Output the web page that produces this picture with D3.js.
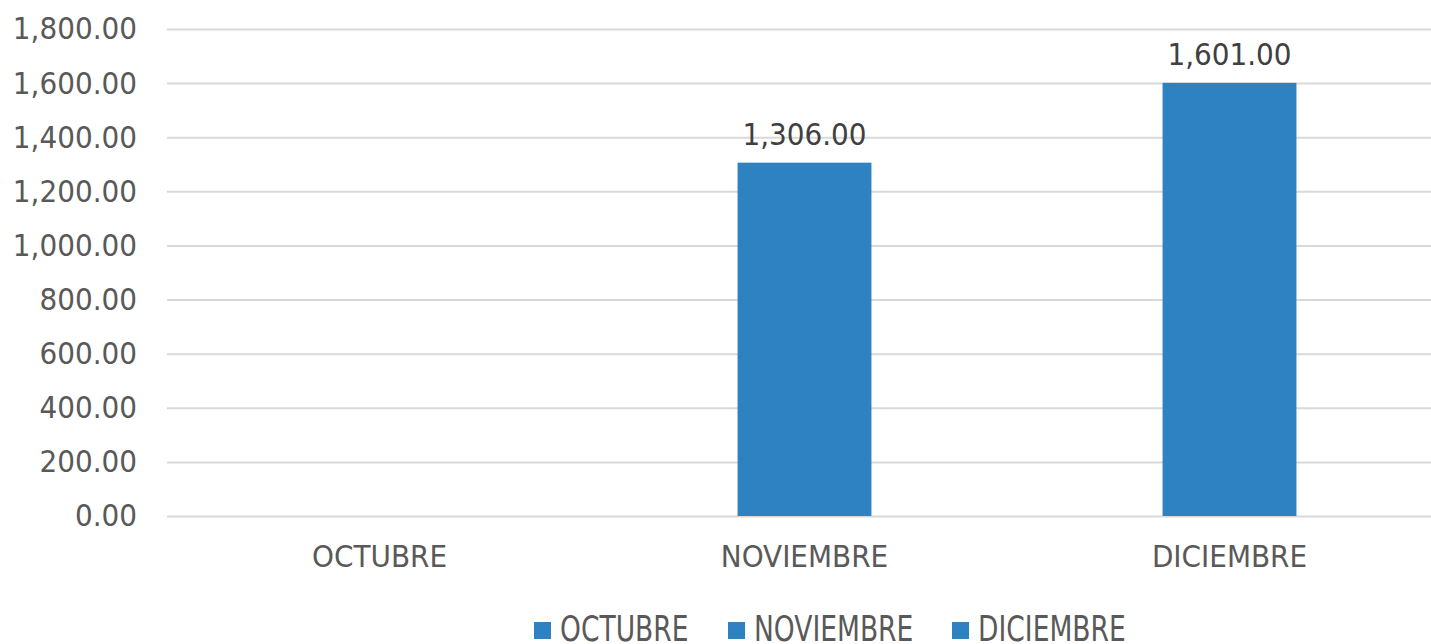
<!DOCTYPE html>
<html>
<head>
<meta charset="utf-8">
<script src="https://cdn.jsdelivr.net/npm/d3@7"></script>
<style>
  body { margin: 0; background: #fff; }
  text { font-family: "DejaVu Sans Condensed", "DejaVu Sans", sans-serif; }
</style>
</head>
<body>
<svg id="chart"></svg>
<script>
// Data
const categories = ["OCTUBRE", "NOVIEMBRE", "DICIEMBRE"];
const values = [null, 1306, 1601];
const yTicks = [0, 200, 400, 600, 800, 1000, 1200, 1400, 1600, 1800];
const legendItems = ["OCTUBRE", "NOVIEMBRE", "DICIEMBRE"];

// Configurations
const width = 1431;
const height = 644;
const marginLeft = 167;
const plotRight = 1442;   // plot area runs a bit past the picture edge
const yTop = 29;
const yBottom = 516;
const barColor = "#2e82c2";
const textColor = "#595959";
const barShare = 0.315;   // bar width as share of category band

const svg = d3.select("#chart")
    .attr("width", width)
    .attr("height", height)
    .attr("viewBox", [0, 0, width, height]);

const x = d3.scaleBand(categories, [marginLeft, plotRight]).padding(0);
const y = d3.scaleLinear([0, 1800], [yBottom, yTop]);
const fmt = d3.format(",.2f");

// gridlines + y labels
const yAxis = d3.axisLeft(y).tickValues(yTicks).tickFormat(fmt).tickSize(0).tickPadding(30);
svg.append("g")
    .attr("transform", `translate(${marginLeft},0)`)
    .call(yAxis)
    .call(g => g.select(".domain").remove())
    .call(g => g.selectAll(".tick line").clone()
        .attr("x2", plotRight - marginLeft)
        .attr("stroke", "#d9d9d9")
        .attr("stroke-width", 2))
    .call(g => g.selectAll(".tick text")
        .attr("fill", textColor)
        .attr("font-size", 31)
        .attr("font-family", "DejaVu Sans Condensed"));

// bars
const bw = x.bandwidth() * barShare;
const data = categories.map((c, i) => ({c, v: values[i]})).filter(d => d.v != null);

svg.append("g")
    .selectAll("rect")
    .data(data)
    .join("rect")
    .attr("x", d => x(d.c) + x.bandwidth() / 2 - bw / 2)
    .attr("y", d => y(d.v))
    .attr("width", bw)
    .attr("height", d => y(0) - y(d.v))
    .attr("fill", barColor);

// data labels
svg.append("g")
    .selectAll("text")
    .data(data)
    .join("text")
    .attr("x", d => x(d.c) + x.bandwidth() / 2)
    .attr("y", d => y(d.v) - 18)
    .attr("text-anchor", "middle")
    .attr("fill", "#404040")
    .attr("font-size", 31)
    .text(d => fmt(d.v));

// x axis labels
const xAxis = d3.axisBottom(x).tickSize(0).tickPadding(29);
svg.append("g")
    .attr("transform", `translate(0,${yBottom})`)
    .call(xAxis)
    .call(g => g.select(".domain").remove())
    .call(g => g.selectAll(".tick text")
        .attr("fill", textColor)
        .attr("font-size", 31)
        .attr("font-family", "DejaVu Sans Condensed"));

// legend (tall, narrow lettering, down at the bottom edge)
const legendX = [534, 728, 952];
const legend = svg.append("g")
    .selectAll("g")
    .data(legendItems)
    .join("g")
    .attr("transform", (d, i) => `translate(${legendX[i]},622)`);

legend.append("rect")
    .attr("width", 17)
    .attr("height", 17)
    .attr("fill", barColor);

legend.append("text")
    .attr("transform", "translate(26,19) scale(0.82,1)")
    .attr("fill", textColor)
    .attr("font-size", 36)
    .text(d => d);
</script>
</body>
</html>
